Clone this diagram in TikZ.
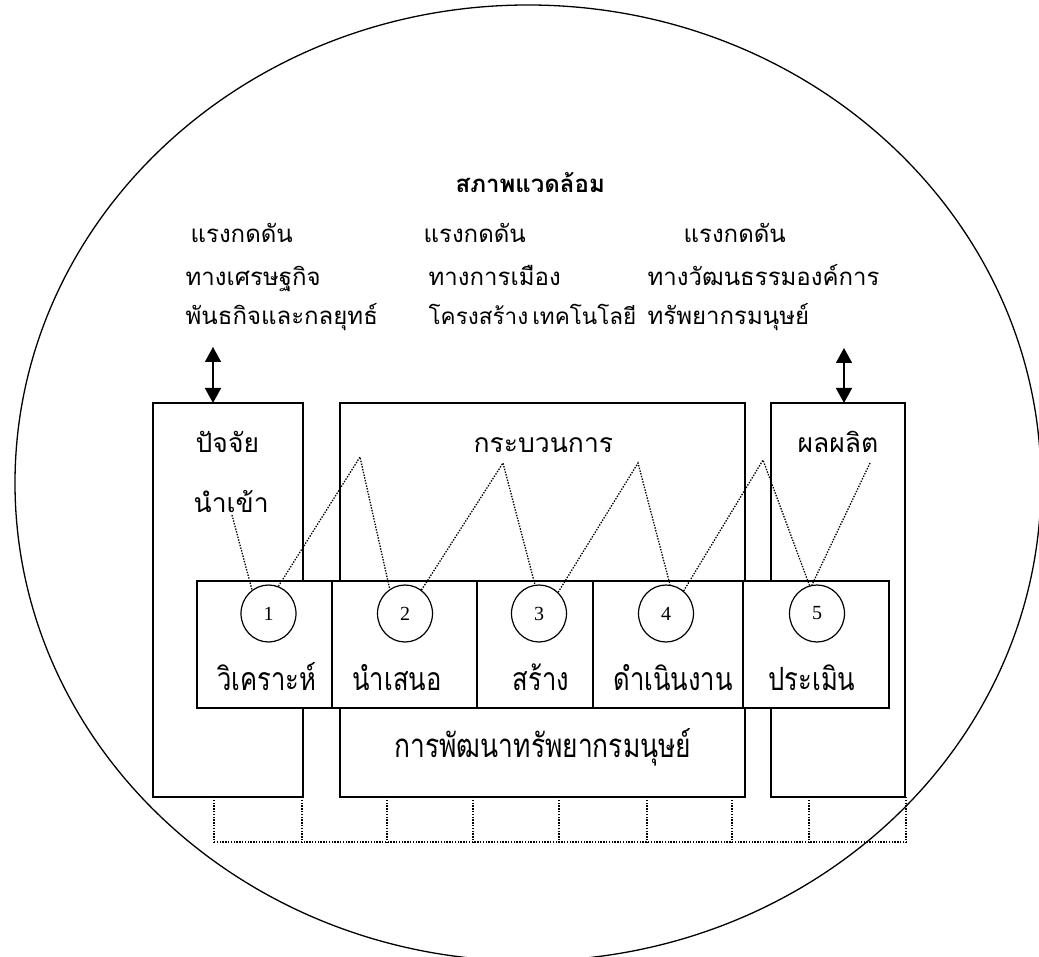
\documentclass[tikz,border=0pt]{standalone}
\usepackage{fontspec}
\setmainfont{Liberation Serif}
\newfontfamily\thai[Script=Thai]{Loma}
\newfontfamily\thainarrow[Script=Thai,FakeStretch=0.8]{Loma}
\usetikzlibrary{arrows.meta,shapes.geometric}

\begin{document}
\begin{tikzpicture}[x=1pt,y=-1pt,
  line width=1.3pt,
  frame/.style={draw,line width=1.3pt,inner sep=0pt,outer sep=0pt,anchor=north west},
  cell/.style={frame,fill=white,minimum height=127pt},
  stepnum/.style={draw,ellipse,line width=1.2pt,fill=white,minimum width=55pt,minimum height=57pt,inner sep=0pt,font=\fontsize{20}{22}\selectfont},
  small/.style={inner sep=0pt,font=\thai\fontsize{24}{28}\selectfont},
  boxtext/.style={inner sep=0pt,font=\thai\fontsize{26.5}{30}\selectfont},
  big/.style={inner sep=0pt,font=\thainarrow\fontsize{32}{36}\selectfont},
  link/.style={line width=1.3pt,dash pattern=on 1.4pt off 1.4pt},
  grid/.style={line width=1.3pt,dash pattern=on 1.4pt off 1.4pt},
  twoway/.style={line width=1.6pt,{Triangle[length=15pt,width=16pt]}-{Triangle[length=15pt,width=16pt]}}
]
\useasboundingbox (0,0) rectangle (1039,957);

% environment
\node[draw,ellipse,line width=1.3pt,minimum width=1026pt,minimum height=956pt,inner sep=0pt] (env) at (528,483) {};

% heading and pressures
\node[small,font=\thai\bfseries\fontsize{24}{28}\selectfont,anchor=base west] (title) at (455,193) {สภาพแวดล้อม};
\node[small,anchor=base west] (p1a) at (190,243) {แรงกดดัน};
\node[small,anchor=base west] (p1b) at (185,286) {ทางเศรษฐกิจ};
\node[small,anchor=base west] (p1c) at (185,325) {พันธกิจและกลยุทธ์};
\node[small,anchor=base west] (p2a) at (423,243) {แรงกดดัน};
\node[small,anchor=base west] (p2b) at (428,286) {ทางการเมือง};
\node[small,font=\thai\fontsize{22.5}{26}\selectfont,anchor=base west] (p2c) at (428,325) {โครงสร้าง\hspace{4pt}เทคโนโลยี};
\node[small,anchor=base west] (p3a) at (683,243) {แรงกดดัน};
\node[small,anchor=base west] (p3b) at (647,286) {ทางวัฒนธรรมองค์การ};
\node[small,anchor=base west] (p3c) at (647,325) {ทรัพยากรมนุษย์};

% three main boxes
\node[frame,minimum width=150pt,minimum height=394pt] (inbox) at (153,403) {};
\node[frame,minimum width=405pt,minimum height=394pt] (procbox) at (340,403) {};
\node[frame,minimum width=134pt,minimum height=394pt] (outbox) at (771,403) {};

\node[boxtext,anchor=base west] (inA) at (195,453) {ปัจจัย};
\node[boxtext,anchor=base west] (inB) at (193,512) {นำเข้า};
\node[boxtext,anchor=base west] (proc) at (473,453) {กระบวนการ};
\node[boxtext,anchor=base west] (outp) at (797,453) {ผลผลิต};
\node[big,font=\thainarrow\fontsize{33}{37}\selectfont,anchor=base] (hrd) at (543,757) {การพัฒนาทรัพยากรมนุษย์};

% arrows to the surroundings
\coordinate (inTop) at (213,347);
\coordinate (outTop) at (844,348);
\draw[twoway] (inTop) -- (inTop |- inbox.north);
\draw[twoway] (outTop) -- (outTop |- outbox.north);

% strip of steps
\node[cell,minimum width=135pt] (s1) at (197,581) {};
\node[cell,minimum width=145pt] (s2) at (332,581) {};
\node[cell,minimum width=116pt] (s3) at (477,581) {};
\node[cell,minimum width=150pt] (s4) at (593,581) {};
\node[cell,minimum width=146pt] (s5) at (743,581) {};

\node[stepnum] (c1) at (268.5,613.5) {1};
\node[stepnum] (c2) at (405,613.5) {2};
\node[stepnum] (c3) at (539,613.5) {3};
\node[stepnum] (c4) at (666,613.5) {4};
\node[stepnum] (c5) at (817,613.5) {5};

\node[big,anchor=base] (t1) at (267,690) {วิเคราะห์};
\node[big,anchor=base] (t2) at (397,690) {นำเสนอ};
\node[big,anchor=base] (t3) at (541,690) {สร้าง};
\node[big,anchor=base] (t4) at (673,690) {ดำเนินงาน};
\node[big,anchor=base] (t5) at (812,690) {ประเมิน};

% zigzag links between the steps
\coordinate (inFoot) at (232,515);
\coordinate (outFoot) at (870,463);
\coordinate (k1) at (360,457);
\coordinate (k2) at (503,463);
\coordinate (k3) at (638,463);
\coordinate (k4) at (763,460);
\draw[link] (inFoot) -- (c1.125);
\draw[link] (c1.70) -- (k1) -- (c2.122);
\draw[link] (c2.55) -- (k2) -- (c3.98);
\draw[link] (c3.48) -- (k3) -- (c4.82);
\draw[link] (c4.52) -- (k4) -- (c5.105);
\draw[link] (outFoot) -- (c5.100);

% dotted grid under the boxes
\foreach \gx in {214,302,387,473,559,647,732,809,906}
  \draw[grid] (\gx,797) -- (\gx,842);
\draw[grid] (214,842) -- (906,842);
\end{tikzpicture}
\end{document}
